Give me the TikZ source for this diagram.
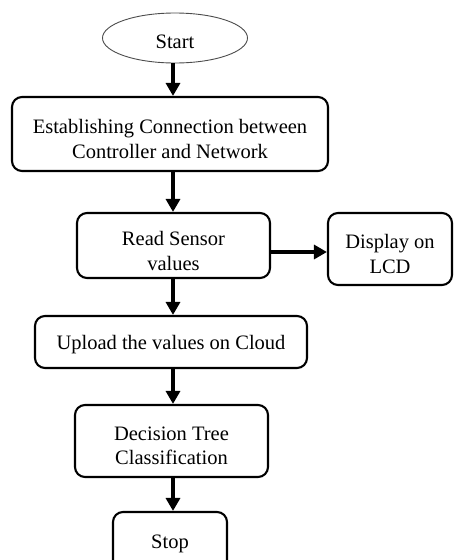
\documentclass[tikz,border=0pt]{standalone}
\usepackage{fontspec}
\setmainfont{Liberation Serif}
\usetikzlibrary{arrows.meta,shapes.geometric}
\begin{document}
\begin{tikzpicture}[x=1pt,y=-1pt,
  font=\fontsize{20.5}{24.5}\selectfont,
  box/.style={draw=black,line width=2.1pt,rounded corners=10pt,inner sep=0pt},
  txt/.style={align=center,inner sep=0pt,text=black},
  arr/.style={line width=3.2pt,-{Triangle[width=14pt,length=13pt]}}]
\useasboundingbox (0,0) rectangle (454,560);
\clip (0,0) rectangle (454,560);
% start terminal
\node[ellipse,draw=black!70,line width=0.9pt,minimum width=145pt,minimum height=50pt,inner sep=0pt] (start) at (175,38) {};
\node[txt] (starttxt) at (175,42) {Start};
% process boxes
\node[box,minimum width=316pt,minimum height=74pt] (b1) at (170,134) {};
\node[txt] (b1txt) at (170,139) {Establishing Connection between\\Controller and Network};
\node[box,minimum width=193pt,minimum height=65pt] (b2) at (173.5,245.5) {};
\node[txt] (b2txt) at (173.5,251) {Read Sensor\\values};
\node[box,minimum width=124pt,minimum height=72pt] (lcd) at (390,249) {};
\node[txt] (lcdtxt) at (390,254) {Display on\\LCD};
\node[box,minimum width=272pt,minimum height=52pt] (b3) at (171,342) {};
\node[txt] (b3txt) at (171,345) {Upload the values on Cloud};
\node[box,minimum width=193pt,minimum height=72pt] (b4) at (171.5,441) {};
\node[txt] (b4txt) at (171.5,446) {Decision Tree\\Classification};
\node[box,minimum width=114pt,minimum height=70pt] (stop) at (170,547) {};
\node[txt] (stoptxt) at (170,544) {Stop};
% connectors
\coordinate (ax) at (173,0);
\draw[arr] (start.south -| ax) -- (b1.north -| ax);
\draw[arr] (b1.south -| ax) -- (b2.north -| ax);
\draw[arr] (b2.south -| ax) -- (b3.north -| ax);
\draw[arr] (b3.south -| ax) -- (b4.north -| ax);
\draw[arr] (b4.south -| ax) -- (stop.north -| ax);
\coordinate (hy) at (0,252);
\draw[arr] (b2.east |- hy) -- (lcd.west |- hy);
\end{tikzpicture}
\end{document}
